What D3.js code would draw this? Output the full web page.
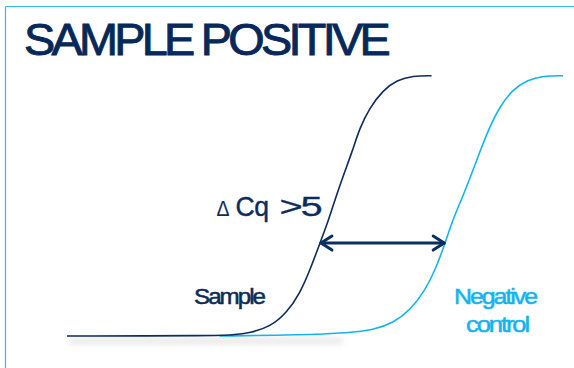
<!DOCTYPE html>
<html>
<head>
<meta charset="utf-8">
<script src="https://cdn.jsdelivr.net/npm/d3@7"></script>
<style>
  html, body { margin: 0; padding: 0; background: #fff; }
  svg { display: block; }
  text { font-family: "Liberation Sans", Arial, sans-serif; }
</style>
</head>
<body>
<svg id="chart" width="574" height="368"></svg>
<script>
// ---- data (cycle number vs. relative fluorescence) ----
const sampleCycles = [0, 12.3, 13.2, 14.8, 16.4, 17.7, 18.8, 19.6, 20.4, 21.1, 21.6, 22.3, 23.0, 23.6, 24.4, 25.5, 26.6, 27.9, 29.4];
const sampleFluor  = [0, 0.1, 0.4, 1.2, 3.6, 8.8, 16.5, 25.4, 35.7, 44.6, 52.2, 61.9, 70.8, 79.9, 87.6, 94.5, 98.3, 100, 100];
const negCycles = [12.3, 18.8, 22.8, 24.7, 26.3, 27.7, 28.9, 29.7, 30.5, 31.1, 31.8, 32.7, 33.4, 34.1, 34.9, 35.9, 37.1, 38.4, 40];
const negFluor  = [0, 0.4, 1.2, 2.3, 5.0, 10.0, 17.7, 25.4, 35.7, 44.6, 52.2, 63.1, 72.2, 80.4, 88.1, 94.5, 98.3, 100, 100];
const threshold = 35.7;
const sampleCq = 20.4;
const negCq = 30.5;
const titleText = "SAMPLE POSITIVE";
const deltaLabel = ["\u0394", "Cq", ">5"];
const seriesLabels = ["Sample", ["Negative", "control"]];

const navy = "#0c2b5e";
const cyan = "#13b4ee";

const svg = d3.select("#chart");

const x = d3.scaleLinear().domain([0, 40]).range([67, 563]);
const y = d3.scaleLinear().domain([0, 100]).range([336, 75.7]);

const sample = sampleCycles.map((c, i) => ({c, f: sampleFluor[i]}));
const neg = negCycles.map((c, i) => ({c, f: negFluor[i]}));

const line = d3.line().x(d => x(d.c)).y(d => y(d.f)).curve(d3.curveBasis);

const defs = svg.append("defs");
const blur = defs.append("filter").attr("id", "blur").attr("x", "-20%").attr("y", "-400%").attr("width", "140%").attr("height", "900%");
blur.append("feGaussianBlur").attr("stdDeviation", 3);

// frame
svg.append("line").attr("x1", 5.5).attr("x2", 574).attr("y1", 6.5).attr("y2", 6.5)
  .attr("stroke", "#3ab7e9").attr("stroke-width", 1.2);
svg.append("line").attr("x1", 5.5).attr("x2", 5.5).attr("y1", 6.5).attr("y2", 368)
  .attr("stroke", "#3ab7e9").attr("stroke-width", 1.2);

function label(txt, xp, yp, size, color, len, ls, sw) {
  return svg.append("text").attr("x", xp).attr("y", yp)
    .attr("font-size", size).attr("fill", color)
    .attr("stroke", color).attr("stroke-width", sw)
    .attr("letter-spacing", ls)
    .attr("textLength", len).attr("lengthAdjust", "spacingAndGlyphs")
    .text(txt);
}

// title
label(titleText, 24, 54.5, 44, "#06295a", 363, -3.5, 0.9);

// baseline shadow
svg.append("rect")
  .attr("x", x(0) + 2).attr("width", x(22.4) - x(0) - 4)
  .attr("y", y(0) + 3).attr("height", 4)
  .attr("fill", "#9a9a9a").attr("opacity", 0.35)
  .attr("filter", "url(#blur)");

// curves
svg.append("path").datum(neg).attr("d", line)
  .attr("fill", "none").attr("stroke", cyan).attr("stroke-width", 1.6);
svg.append("path").datum(sample).attr("d", line)
  .attr("fill", "none").attr("stroke", navy).attr("stroke-width", 1.6);

// delta Cq arrow
const ay = y(threshold);
const x1 = x(sampleCq), x2 = x(negCq);
const g = svg.append("g").attr("stroke", "#07305f").attr("stroke-width", 3)
  .attr("fill", "none").attr("stroke-linecap", "round").attr("stroke-linejoin", "round");
g.append("line").attr("x1", x1 + 1).attr("x2", x2 - 1).attr("y1", ay).attr("y2", ay);
g.append("path").attr("d", `M${x1 + 12},${ay - 7} L${x1 + 1},${ay} L${x1 + 12},${ay + 7}`);
g.append("path").attr("d", `M${x2 - 12},${ay - 7} L${x2 - 1},${ay} L${x2 - 12},${ay + 7}`);

// delta label
label(deltaLabel[0], 216.5, 215.5, 22, "#0b2d5e", 13, 0, 0.1);
label(deltaLabel[1], 235.5, 216, 27.5, "#0b2d5e", 33, -0.5, 0.4);
label(deltaLabel[2], 279.5, 216, 27, "#0b2d5e", 41, -1.5, 0.3);

// series labels
label(seriesLabels[0], 194, 303.5, 22, "#0b2b5a", 70, -1.8, 0.5);
label(seriesLabels[1][0], 454, 304, 22, cyan, 82, -1.8, 0.5);
label(seriesLabels[1][1], 466, 332, 22, cyan, 62, -1.8, 0.5);
</script>
</body>
</html>
